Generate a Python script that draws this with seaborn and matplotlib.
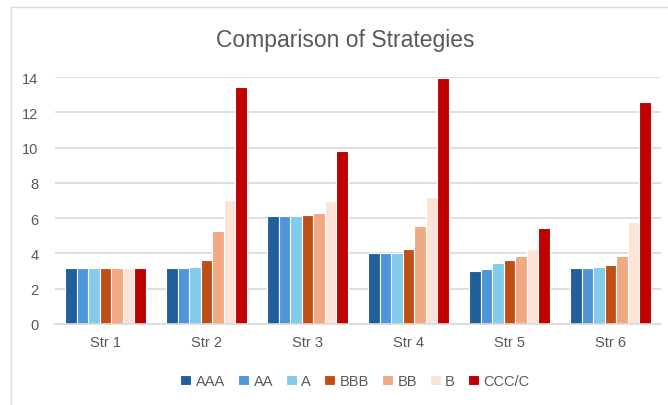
import matplotlib
matplotlib.use("Agg")
import matplotlib.pyplot as plt
import seaborn as sns
import pandas as pd
from matplotlib.patches import Rectangle

strategies = ["Str 1", "Str 2", "Str 3", "Str 4", "Str 5", "Str 6"]
ratings = ["AAA", "AA", "A", "BBB", "BB", "B", "CCC/C"]
aaa = [3.2, 3.2, 6.12, 4.02, 3.02, 3.17]
aa = [3.2, 3.2, 6.12, 4.02, 3.1, 3.19]
a = [3.2, 3.25, 6.12, 4.02, 3.46, 3.21]
bbb = [3.2, 3.6, 6.16, 4.25, 3.63, 3.33]
bb = [3.2, 5.29, 6.31, 5.56, 3.85, 3.85]
b = [3.2, 7.05, 6.99, 7.22, 4.25, 5.76]
ccc = [3.2, 13.43, 9.81, 13.95, 5.44, 12.6]
colors = ["#215F9A", "#4E95D9", "#83CBEB", "#C04F15", "#F1A983", "#FBE3D6", "#C00000"]

series = [aaa, aa, a, bbb, bb, b, ccc]
rows = []
for r, vals in zip(ratings, series):
    for s, v in zip(strategies, vals):
        rows.append({"Strategy": s, "Rating": r, "Value": v})
df = pd.DataFrame(rows)

sns.set_theme(style="white")
plt.rcParams['font.family'] = ['Liberation Sans', 'DejaVu Sans']

fig = plt.figure(figsize=(6.68, 4.06), dpi=100)
ax = fig.add_axes([55/668, 1 - 325/406, (661-55)/668, (325-78)/406])

sns.barplot(data=df, x="Strategy", y="Value", hue="Rating", order=strategies,
            hue_order=ratings, palette=colors, width=0.8, ax=ax,
            edgecolor="white", linewidth=0.8, errorbar=None, saturation=1)

ax.set_ylim(0, 14)
ax.set_yticks(range(0, 15, 2))
ax.yaxis.grid(True, color="#D9D9D9", linewidth=1.2)
ax.set_axisbelow(True)
for sp in ["top", "right", "left"]:
    ax.spines[sp].set_visible(False)
ax.spines["bottom"].set_color("#D9D9D9")
ax.spines["bottom"].set_linewidth(1.2)
ax.set_xlabel("")
ax.set_ylabel("")
ax.tick_params(axis="both", colors="#595959", labelsize=10.5, length=0)
ax.tick_params(axis="y", pad=12)
ax.tick_params(axis="x", pad=8)

fig.text(345/668, 1 - 40/406, "Comparison of Strategies", ha="center", va="center",
         fontsize=16.5, color="#595959")

handles, labels = ax.get_legend_handles_labels()
ax.legend_.remove()
fig.legend(handles, labels, loc="center", bbox_to_anchor=(355/668, 1 - 382/406),
           ncol=7, frameon=False, fontsize=10.5, handlelength=0.75, handleheight=0.75,
           handletextpad=0.3, columnspacing=0.9, labelcolor="#595959")

fig.patches.append(Rectangle((11/668, -0.1), 1.2, 1 - 8/406 + 0.1, transform=fig.transFigure,
                             fill=False, edgecolor="#D9D9D9", linewidth=1))

fig.savefig("out.png", dpi=100)
